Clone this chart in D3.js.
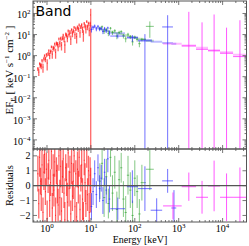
<!DOCTYPE html>
<html>
<head>
<meta charset="utf-8">
<script src="https://cdn.jsdelivr.net/npm/d3@7"></script>
<style>
  body { margin: 0; background: #fff; }
  text { font-family: "Liberation Serif", "DejaVu Serif", serif; fill: #000; }
  text.title { font-family: "DejaVu Sans", sans-serif; }
</style>
</head>
<body>
<div id="holder"></div>
<script>
var width = 249;
var height = 246;
var left = 33, right = 246.5, top0 = 1, mid = 149, bottom = 222;

// red instrument (soft X-ray)
var redE = [0.62, 0.65, 0.68, 0.71, 0.74, 0.77, 0.81, 0.85, 0.88, 0.92, 0.97, 1.01, 1.06, 1.10, 1.15, 1.21, 1.26, 1.32, 1.38, 1.44,
  1.50, 1.57, 1.64, 1.72, 1.79, 1.87, 1.96, 2.05, 2.14, 2.24, 2.34, 2.44, 2.55, 2.67, 2.79, 2.91, 3.04, 3.18, 3.33, 3.48,
  3.63, 3.80, 3.97, 4.15, 4.33, 4.53, 4.73, 4.95, 5.17, 5.40, 5.65, 5.90, 6.17, 6.45, 6.74, 7.04, 7.36, 7.69, 8.04, 8.40,
  8.78, 9.18, 9.59, 9.90];
var redF = [0.24, 0.166, 0.412, 0.35, 0.321, 0.589, 0.285, 0.729, 1.0, 0.672, 1.11, 0.438, 1.23, 1.71, 1.0, 1.59, 2.63, 1.17, 2.44, 2.14,
  3.58, 1.43, 3.95, 3.59, 2.57, 6.26, 3.68, 6.66, 3.13, 6.83, 9.35, 6.1, 3.2, 10.45, 9.44, 6.62, 15.1, 9.89, 13.5, 6.14,
  17.0, 10.8, 14.9, 21.9, 9.95, 19.3, 8.03, 22.7, 18.0, 28.3, 12.0, 23.4, 29.2, 17.4, 10.4, 33.9, 25.7, 17.7, 41.8, 22.6,
  34.0, 15.3, 33.4, 85];
var redErr = [0.05, 0.059, 0.07, 0.082, 0.095, 0.109, 0.13, 0.149, 0.164, 0.187, 0.218, 0.243, 0.274, 0.3, 0.334, 0.378, 0.417, 0.467, 0.52, 0.578,
  0.64, 0.715, 0.79, 0.875, 0.95, 1.04, 1.15, 1.26, 1.36, 1.49, 1.61, 1.74, 1.88, 2.01, 2.15, 2.28, 2.44, 2.6, 2.76, 2.93,
  3.09, 3.28, 3.47, 3.65, 3.83, 4.03, 4.23, 4.45, 4.63, 4.8, 5.0, 5.2, 5.4, 5.6, 5.78, 5.95, 6.13, 6.33, 6.53, 6.65,
  6.8, 6.95, 7.1, 85];
var redRes = [0.8, -1.2, 1.9, 0.3, -0.6, 1.4, -1.8, 0.9, 2.1, -0.4, 1.1, -2.2, 0.5, 1.7, -1.0, 0.2, 2.3, -1.5, 0.7, -0.3,
  1.6, -2.0, 1.0, 0.1, -1.3, 2.0, -0.8, 1.3, -1.7, 0.6, 1.8, -0.5, -2.3, 1.2, 0.4, -1.1, 2.2, -0.2, 0.9, -1.9,
  1.5, -0.7, 0.3, 2.0, -1.4, 0.8, -2.1, 1.1, -0.1, 1.9, -1.6, 0.5, 1.4, -0.9, -2.2, 1.7, 0.2, -1.2, 2.4, -0.6,
  1.0, -1.8, 0.7, -0.3];
var redResErr = [1.2, 1.0, 1.3, 0.9, 1.1, 1.4, 1.0, 1.2, 1.3, 0.9, 1.1, 1.2, 1.0, 1.3, 1.1, 0.9, 1.2, 1.0, 1.4, 1.1,
  1.0, 1.2, 0.9, 1.3, 1.1, 1.0, 1.2, 1.4, 0.9, 1.1, 1.3, 1.0, 1.2, 0.9, 1.1, 1.3, 1.0, 1.2, 1.1, 0.9,
  1.4, 1.0, 1.2, 1.1, 1.3, 0.9, 1.0, 1.2, 1.1, 1.3, 1.0, 0.9, 1.2, 1.4, 1.1, 1.0, 1.3, 0.9, 1.2, 1.1,
  1.0, 1.3, 1.2, 1.5];

// blue instrument
var blueE = [10.3, 11.2, 12.2, 13.3, 14.5, 15.8, 17.2, 18.8, 20.5, 22.3, 24.3, 26.5, 41, 88, 170, 315, 560, 780];
var blueLo = [9.85, 10.75, 11.7, 12.75, 13.9, 15.15, 16.5, 18.0, 19.65, 21.4, 23.3, 25.4, 27.6, 66, 118, 230, 420, 680];
var blueHi = [10.75, 11.7, 12.75, 13.9, 15.15, 16.5, 18.0, 19.65, 21.4, 23.3, 25.4, 27.6, 60, 118, 245, 420, 740, 880];
var blueF = [17.3, 21.2, 25.5, 18.5, 24.6, 18.2, 20.0, 14.0, 19.7, 15.0, 20.7, 12.0, 8.5, 7.0, 5.0, -1.0, 23, -2.0];
var blueErr = [4.8, 4.6, 4.4, 4.2, 4.0, 3.8, 3.6, 3.5, 3.3, 3.2, 3.0, 2.9, 1.9, 2.5, 5.5, 3.0, 60, 4.0];
var blueRes = [-1.4, -0.4, 0.8, -0.6, 1.2, -0.2, 0.5, -1.0, 0.9, -0.3, 1.8, -0.9, -1.55, -0.07, -0.2, -1.65, 0.32, -1.5];
var blueResErr = [0.9, 0.9, 0.9, 0.9, 0.9, 0.9, 0.9, 0.9, 0.9, 0.9, 0.9, 0.9, 0.75, 1.1, 1.5, 0.8, 0.8, 1.2];

// green instrument
var greenE = [16, 18, 20, 22.5, 25, 28, 31, 35, 39, 44, 49, 55, 62, 70, 79, 89, 100, 113, 127, 145, 220];
var greenF = [20.1, 23.4, 13.9, 17.7, 11.4, 20.0, 12.4, 15.3, 8.5, 12.7, 13.9, 8.6, 6.3, 10.3, 7.8, 4.5, 7.5, 5.9, 3.7, 5.9, 24.5];
var greenErr = [3.8, 3.6, 3.3, 3.2, 3.0, 2.9, 2.8, 2.6, 2.5, 2.4, 2.2, 2.1, 2.0, 1.8, 1.7, 1.5, 1.4, 1.3, 1.2, 1.1, 17.5];
var greenRes = [0.3, 1.5, -0.8, 0.6, -1.2, 1.9, -0.5, 0.9, -1.6, 0.4, 1.2, -0.9, -1.8, 0.7, -0.3, -2.0, 0.5, -0.4, -1.9, 0.2, 1.1];
var greenResErr = [1.2, 1.1, 1.3, 1.2, 1.0, 1.3, 1.2, 1.1, 1.2, 1.3, 1.0, 1.2, 1.1, 1.3, 1.2, 1.0, 1.2, 1.1, 1.0, 1.2, 1.4];

// magenta instrument
var magE = [740, 1700, 3400, 6400, 12300, 24800];
var magLo = [440, 1170, 2480, 4650, 8730, 17300];
var magHi = [1170, 2480, 4650, 8730, 17300, 35400];
var magF = [-1, 2.9, 2.0, 1.7, 1.3, 0.9];
var magErr = [2, 117, 36, 88, 20, 47];
var magRes = [-1.36, -0.07, -0.78, -0.02, -0.78, -0.78];
var magResErr = [0.9, 0.95, 1.1, 1.7, 1.6, 2.0];

// band model curve (nodes)
var modelE = [0.45, 0.62, 0.8, 1, 1.3, 1.6, 2, 2.5, 3.2, 4, 5, 6.3, 8, 10, 15, 20, 30, 50, 100, 200, 500, 1000, 2000, 4000, 7000, 14000, 28000, 40000];
var modelF = [0.07, 0.2, 0.5, 0.95, 1.8, 3.0, 4.8, 7.3, 10.5, 14, 18, 22, 26, 25, 19.5, 16.5, 13.5, 10.5, 7.0, 5.2, 4.1, 3.4, 2.9, 2.2, 1.75, 1.4, 1.05, 0.9];

var xTickExp = [0, 1, 2, 3, 4];
var yTickExp = [-4, -3, -2, -1, 0, 1, 2];
var resTicks = [-2, -1, 0, 1, 2];

var x = d3.scaleLog().domain([0.48, 35000]).range([left, right]);
var yTop = d3.scaleLog().domain([3.7e-5, 392]).range([mid, top0]);
var yRes = d3.scaleLinear().domain([-2.44, 2.46]).range([bottom, mid]);

var svg = d3.select("#holder").append("svg")
  .attr("width", width)
  .attr("height", height);

var defs = svg.append("defs");
defs.append("clipPath").attr("id", "clipTop").append("rect")
  .attr("x", left).attr("y", top0).attr("width", right - left).attr("height", mid - top0);
defs.append("clipPath").attr("id", "clipRes").append("rect")
  .attr("x", left).attr("y", mid).attr("width", right - left).attr("height", bottom - mid);

var gTop = svg.append("g").attr("clip-path", "url(#clipTop)");
var gRes = svg.append("g").attr("clip-path", "url(#clipRes)");

function binEdges(E) {
  var lo = [], hi = [];
  for (var i = 0; i < E.length; i++) {
    var l = i > 0 ? Math.sqrt(E[i - 1] * E[i]) : E[0] * E[0] / Math.sqrt(E[0] * E[1]);
    var h = i < E.length - 1 ? Math.sqrt(E[i] * E[i + 1]) : E[i] * E[i] / Math.sqrt(E[i - 1] * E[i]);
    lo.push(l); hi.push(h);
  }
  return [lo, hi];
}

function modelAt(e) {
  for (var i = 0; i < modelE.length - 1; i++) {
    if (e <= modelE[i + 1]) {
      var t = Math.log(e / modelE[i]) / Math.log(modelE[i + 1] / modelE[i]);
      return Math.exp(Math.log(modelF[i]) + t * Math.log(modelF[i + 1] / modelF[i]));
    }
  }
  return modelF[modelF.length - 1];
}

var redBins = binEdges(redE);
var greenBins = binEdges(greenE);

var series = [
  {E: redE, lo: redBins[0], hi: redBins[1], F: redF, err: redErr, res: redRes, resErr: redResErr, color: "#ff0000", op: 0.6, w: 1.3},
  {E: greenE, lo: greenBins[0], hi: greenBins[1], F: greenF, err: greenErr, res: greenRes, resErr: greenResErr, color: "#1f9a1f", op: 0.55, w: 1},
  {E: blueE, lo: blueLo, hi: blueHi, F: blueF, err: blueErr, res: blueRes, resErr: blueResErr, color: "#2525ff", op: 0.65, w: 1},
  {E: magE, lo: magLo, hi: magHi, F: magF, err: magErr, res: magRes, resErr: magResErr, color: "#ff22ff", op: 0.75, w: 1}
];

// model steps
series.forEach(function(s) {
  var d = "";
  for (var i = 0; i < s.E.length; i++) {
    var m = yTop(modelAt(s.E[i]));
    d += "M" + x(s.lo[i]) + "," + m + "H" + x(s.hi[i]);
  }
  gTop.append("path")
    .attr("d", d)
    .attr("fill", "none")
    .attr("stroke", s.color)
    .attr("stroke-opacity", 0.3)
    .attr("stroke-width", 2);
});

// residual zero line
svg.append("line")
  .attr("x1", left).attr("x2", right)
  .attr("y1", yRes(0)).attr("y2", yRes(0))
  .attr("stroke", "#555")
  .attr("stroke-width", 1.2);

// data crosses
series.forEach(function(s) {
  var gt = gTop.append("g").attr("stroke", s.color).attr("stroke-opacity", s.op).attr("stroke-width", s.w);
  var gr = gRes.append("g").attr("stroke", s.color).attr("stroke-opacity", s.op).attr("stroke-width", s.w);
  for (var i = 0; i < s.E.length; i++) {
    if (s.F[i] > 0) {
      var yc = yTop(s.F[i]);
      var yHi = yTop(s.F[i] + s.err[i]);
      var yLo = s.F[i] - s.err[i] > 0 ? yTop(s.F[i] - s.err[i]) : mid + 2;
      gt.append("line").attr("x1", x(s.lo[i])).attr("x2", x(s.hi[i])).attr("y1", yc).attr("y2", yc);
      gt.append("line").attr("x1", x(s.E[i])).attr("x2", x(s.E[i])).attr("y1", yHi).attr("y2", yLo);
    }
    var yr = yRes(s.res[i]);
    gr.append("line").attr("x1", x(s.lo[i])).attr("x2", x(s.hi[i])).attr("y1", yr).attr("y2", yr);
    gr.append("line").attr("x1", x(s.E[i])).attr("x2", x(s.E[i]))
      .attr("y1", yRes(s.res[i] + s.resErr[i])).attr("y2", yRes(s.res[i] - s.resErr[i]));
  }
});

// frames and ticks
var axisColor = "#555";
function frame(y0, y1) {
  svg.append("rect")
    .attr("x", left).attr("y", y0)
    .attr("width", right - left).attr("height", y1 - y0)
    .attr("fill", "none")
    .attr("stroke", axisColor)
    .attr("stroke-width", 1);
}
frame(top0, mid);
frame(mid, bottom);

var tickG = svg.append("g").attr("stroke", axisColor).attr("stroke-width", 0.8);
function xTicksFor(y0, y1) {
  for (var d = -1; d <= 4; d++) {
    for (var k = 1; k <= 9; k++) {
      var v = k * Math.pow(10, d);
      if (v < 0.48 || v > 35000) continue;
      var len = k == 1 ? 4 : 2;
      tickG.append("line").attr("x1", x(v)).attr("x2", x(v)).attr("y1", y0).attr("y2", y0 + len);
      tickG.append("line").attr("x1", x(v)).attr("x2", x(v)).attr("y1", y1).attr("y2", y1 - len);
    }
  }
}
xTicksFor(top0, mid);
xTicksFor(mid, bottom);

for (var d = -5; d <= 2; d++) {
  for (var k = 1; k <= 9; k++) {
    var v = k * Math.pow(10, d);
    if (v < 3.7e-5 || v > 392) continue;
    var len = k == 1 ? 4 : 2;
    tickG.append("line").attr("x1", left).attr("x2", left + len).attr("y1", yTop(v)).attr("y2", yTop(v));
    tickG.append("line").attr("x1", right).attr("x2", right - len).attr("y1", yTop(v)).attr("y2", yTop(v));
  }
}
resTicks.forEach(function(v) {
  tickG.append("line").attr("x1", left).attr("x2", left + 4).attr("y1", yRes(v)).attr("y2", yRes(v));
  tickG.append("line").attr("x1", right).attr("x2", right - 4).attr("y1", yRes(v)).attr("y2", yRes(v));
});

// tick labels
function powLabel(t, e) {
  t.append("tspan").text("10");
  t.append("tspan").attr("dy", -4).attr("font-size", 7).text(e < 0 ? "\u2212" + (-e) : e);
}
yTickExp.forEach(function(e) {
  var t = svg.append("text")
    .attr("x", 30.5).attr("y", yTop(Math.pow(10, e)) + 4.8)
    .attr("text-anchor", "end")
    .attr("font-size", 10);
  powLabel(t, e);
});
xTickExp.forEach(function(e) {
  var t = svg.append("text")
    .attr("x", x(Math.pow(10, e))).attr("y", 231.5)
    .attr("text-anchor", "middle")
    .attr("font-size", 10);
  powLabel(t, e);
});
resTicks.forEach(function(v) {
  svg.append("text")
    .attr("x", 30.5).attr("y", yRes(v) + 3.5)
    .attr("text-anchor", "end")
    .attr("font-size", 10)
    .text(v < 0 ? "\u2212" + (-v) : v);
});

// axis titles
var yl = svg.append("text")
  .attr("transform", "translate(12.5," + 70 + ") rotate(-90)")
  .attr("text-anchor", "middle")
  .attr("font-size", 11);
yl.append("tspan").text("EF");
yl.append("tspan").attr("dy", 2).attr("font-size", 7).text("E");
yl.append("tspan").attr("dy", -2).text(" [ keV s");
yl.append("tspan").attr("dy", -4).attr("font-size", 7).text("\u22121");
yl.append("tspan").attr("dy", 4).text(" cm");
yl.append("tspan").attr("dy", -4).attr("font-size", 7).text("\u22122");
yl.append("tspan").attr("dy", 4).text(" ]");

svg.append("text")
  .attr("transform", "translate(12.5," + yRes(0) + ") rotate(-90)")
  .attr("text-anchor", "middle")
  .attr("font-size", 10.5)
  .text("Residuals");

svg.append("text")
  .attr("x", 140).attr("y", 242.5)
  .attr("text-anchor", "middle")
  .attr("font-size", 10)
  .text("Energy [keV]");

svg.append("text")
  .attr("class", "title")
  .attr("x", 35.5).attr("y", 15.5)
  .attr("font-size", 14)
  .text("Band");
</script>
</body>
</html>
